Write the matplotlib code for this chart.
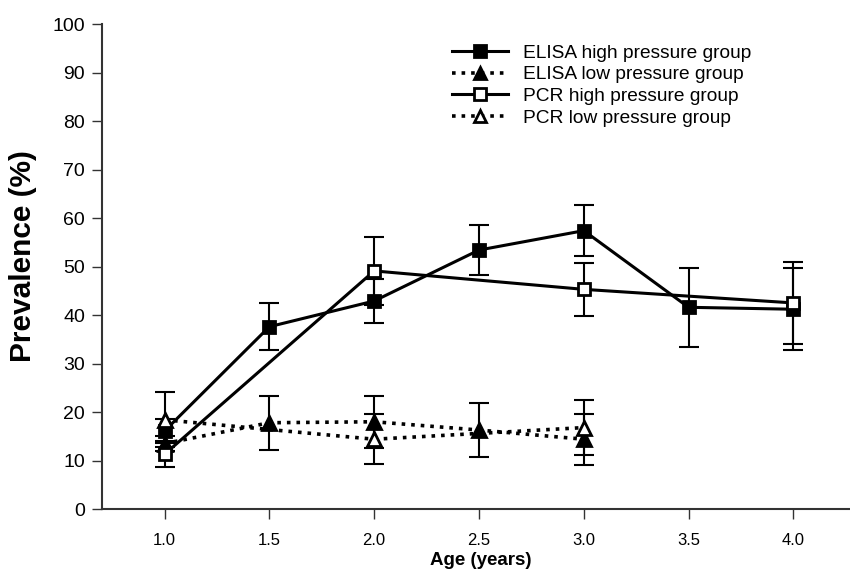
import matplotlib
matplotlib.use("Agg")
import matplotlib.pyplot as plt
from matplotlib.lines import Line2D

plt.rcParams['font.family'] = ['Liberation Sans', 'DejaVu Sans']

# Data
elisa_high_x = [1.0, 1.5, 2.0, 2.5, 3.0, 3.5, 4.0]
elisa_high_y = [16.1, 37.6, 42.9, 53.4, 57.4, 41.6, 41.2]
elisa_high_e = [2.5, 4.9, 4.6, 5.2, 5.2, 8.2, 8.4]

elisa_low_x = [1.0, 1.5, 2.0, 2.5, 3.0]
elisa_low_y = [13.5, 17.8, 18.0, 16.3, 14.4]
elisa_low_e = [1.5, 5.6, 5.4, 5.5, 5.3]

pcr_high_x = [1.0, 2.0, 3.0, 4.0]
pcr_high_y = [11.3, 49.1, 45.3, 42.5]
pcr_high_e = [2.7, 7.0, 5.4, 8.5]

pcr_low_x = [1.0, 2.0, 3.0]
pcr_low_y = [18.4, 14.4, 16.8]
pcr_low_e = [5.7, 5.2, 5.7]

labels = ["ELISA high pressure group", "ELISA low pressure group",
          "PCR high pressure group", "PCR low pressure group"]
x_ticks = [1.0, 1.5, 2.0, 2.5, 3.0, 3.5, 4.0]
y_ticks = list(range(0, 101, 10))

fig = plt.figure(figsize=(8.5, 5.72), dpi=100)
ax = fig.add_axes([0.1196, 0.110, 0.8804, 0.848])

lw = 2.2
ekw = dict(ecolor='black', elinewidth=1.5, capsize=7, capthick=1.5)
series = [
    (elisa_high_x, elisa_high_y, elisa_high_e, '-', 's', 'black'),
    (elisa_low_x, elisa_low_y, elisa_low_e, ':', '^', 'black'),
    (pcr_high_x, pcr_high_y, pcr_high_e, '-', 's', 'white'),
    (pcr_low_x, pcr_low_y, pcr_low_e, ':', '^', 'white'),
]
handles = []
for (xs, ys, es, ls, mk, fc), lab in zip(series, labels):
    ax.errorbar(xs, ys, yerr=es, fmt='none', zorder=2, **ekw)
    ax.plot(xs, ys, linestyle=ls, color='black', linewidth=lw if ls == '-' else 2.6,
            marker=mk, markersize=9 if mk == 's' else 10, markerfacecolor=fc,
            markeredgecolor='black', markeredgewidth=2, zorder=3)
    handles.append(Line2D([], [], linestyle=ls, color='black',
                          linewidth=lw if ls == '-' else 2.6, marker=mk,
                          markersize=8, markerfacecolor=fc,
                          markeredgecolor='black', markeredgewidth=2))

ax.set_xlim(0.7, 4.27)
ax.set_ylim(0, 100)
ax.set_xticks(x_ticks)
ax.set_xticklabels([f"{v:.1f}" for v in x_ticks], fontsize=12)
ax.set_yticks(y_ticks)
ax.set_yticklabels([str(v) for v in y_ticks], fontsize=14)
ax.tick_params(axis='both', direction='out', length=7, width=1, color='#333333', pad=5)
ax.tick_params(axis='x', pad=10)
for s in ['top', 'right']:
    ax.spines[s].set_visible(False)
for s in ['left', 'bottom']:
    ax.spines[s].set_linewidth(1.5)
    ax.spines[s].set_color('#333333')

ax.set_ylabel("Prevalence (%)", fontsize=21.5, fontweight='bold')
ax.yaxis.set_label_coords(-0.087, 0.522)
ax.set_xlabel("Age (years)", fontsize=13.5, fontweight='bold')
ax.xaxis.set_label_coords(0.507, -0.088)

leg = ax.legend(handles, labels, loc='upper left', bbox_to_anchor=(0.458, 0.974),
                frameon=False, fontsize=13.8, handlelength=2.9, handletextpad=0.8,
                labelspacing=0.22, borderaxespad=0)

fig.savefig("out.png", dpi=100)
